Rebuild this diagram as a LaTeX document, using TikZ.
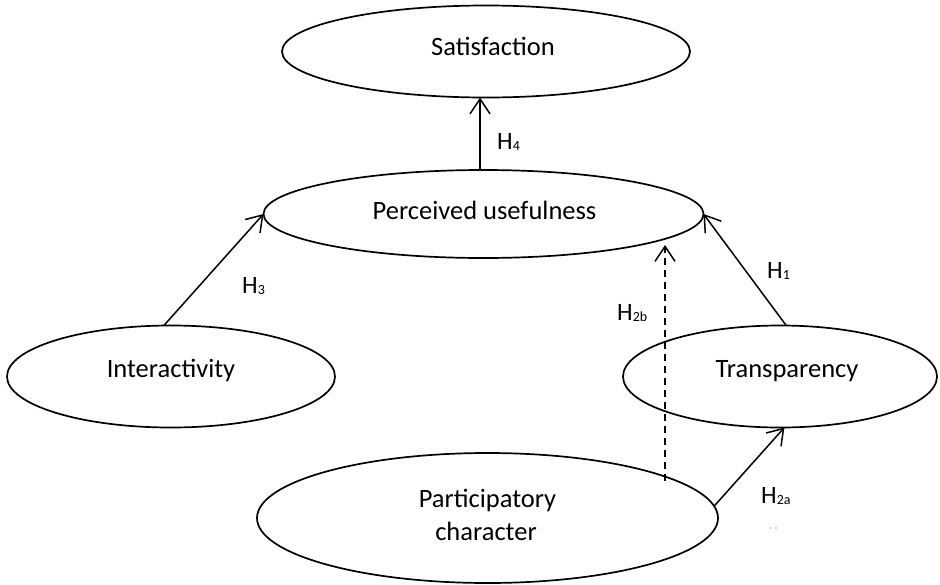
\documentclass[tikz,border=0pt]{standalone}
\usepackage{fontspec}
\setmainfont{Carlito}
\usetikzlibrary{shapes.geometric,arrows.meta}

% subscript used in the hypothesis labels
\newcommand\hsub[1]{\raisebox{-1pt}{\fontsize{14}{14}\selectfont #1}}

\begin{document}
\begin{tikzpicture}[x=1pt,y=-1pt,
  construct/.style={draw=black, line width=1.7pt, ellipse, inner sep=0pt, outer sep=0pt},
  ctext/.style={anchor=base, inner sep=0pt, font=\fontsize{26.5}{30}\selectfont},
  hyp/.style={anchor=base west, inner sep=0pt, font=\fontsize{25}{30}\selectfont},
  link/.style={line width=1.5pt, -{Straight Barb[length=15pt,width=20pt]}},
  dlink/.style={link, dash pattern=on 7pt off 5pt}]
\useasboundingbox (0,0) rectangle (940,584);

% constructs
\node[construct, minimum width=408pt, minimum height=92pt]  (sat)   at (486,51.5) {};
\node[construct, minimum width=440pt, minimum height=88pt]  (pu)    at (483.5,214) {};
\node[construct, minimum width=328pt, minimum height=102pt] (inter) at (171,376.5) {};
\node[construct, minimum width=314pt, minimum height=102pt] (trans) at (780,376.5) {};
\node[construct, minimum width=461pt, minimum height=130pt] (part)  at (487.5,518) {};

% construct names
\node[ctext] (tsat) at (493,55)    {Satisfaction};
\node[ctext] (tpu)  at (484.5,219) {Perceived usefulness};
\node[ctext] (tint) at (171,377)   {Interactivity};
\node[ctext] (ttr)  at (787,377)   {Transparency};
\node[ctext] (tpa1) at (487.5,507) {Participatory};
\node[ctext] (tpa2) at (486,540)   {character};

% hypothesised paths
\draw[link] ([xshift=-3.5pt]pu.north) -- ([xshift=-6pt]sat.south);
\draw[link] (inter.98) -- (pu.west);
\draw[link] (trans.83) -- (pu.east);
\draw[link] (part.3) -- (trans.275);
\coordinate (d0) at (665,481);
\coordinate (d1) at (665,245);
\draw[dlink] (d0) -- (d1);

% path labels
\node[hyp] (h4)  at (497,149) {H\hsub{4}};
\node[hyp] (h3)  at (242,293) {H\hsub{3}};
\node[hyp] (h1)  at (767,278) {H\hsub{1}};
\node[hyp] (h2b) at (617,320) {H\hsub{2b}};
\node[hyp] (h2a) at (761,503) {H\hsub{2a}};

% stray marks
\fill[black!70] (770,528) circle (0.6pt) (776,528) circle (0.6pt);
\end{tikzpicture}
\end{document}
